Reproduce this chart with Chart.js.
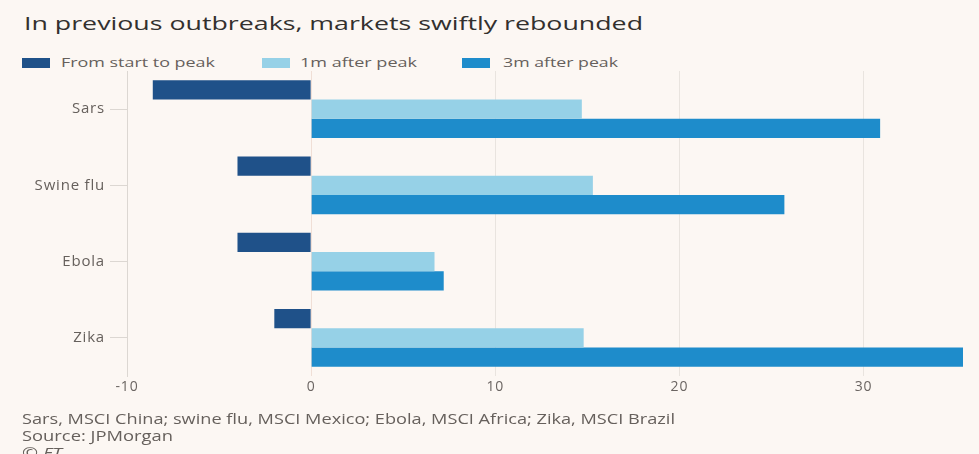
<!DOCTYPE html>
<html>
<head>
<meta charset="utf-8">
<script src="https://cdn.jsdelivr.net/npm/chart.js@4"></script>
<style>
  html, body { margin: 0; padding: 0; background: #fcf7f3; }
  body { width: 979px; height: 454px; position: relative; overflow: hidden; font-family: 'Open Sans', sans-serif; color: #66605c; }
  .fit { position: absolute; white-space: nowrap; transform-origin: 0 50%; line-height: 1; }
  #title { left: 24px; top: 14px; font-size: 19px; color: #33302e; }
  .legend-box { position: absolute; top: 58px; width: 28px; height: 10px; }
  .legend-text { top: 56px; font-size: 13px; }
  #wrap { position: absolute; left: 0; top: 0; width: 979px; height: 454px; }
  .note { left: 22px; font-size: 14px; }
</style>
</head>
<body>
<div id="title" class="fit" data-w="619">In previous outbreaks, markets swiftly rebounded</div>
<div id="legend"></div>
<div id="wrap"><canvas id="chart"></canvas></div>
<div class="fit note" style="top:412px" data-w="653">Sars, MSCI China; swine flu, MSCI Mexico; Ebola, MSCI Africa; Zika, MSCI Brazil</div>
<div class="fit note" style="top:429px" data-w="151">Source: JPMorgan</div>
<div class="fit note" style="top:446px; font-style:italic" data-w="40">© FT</div>
<script>
const outbreaks = ['Sars', 'Swine flu', 'Ebola', 'Zika']
const startToPeak = [-8.6, -4.0, -4.0, -2.0]
const oneMonthAfter = [14.7, 15.3, 6.7, 14.8]
const threeMonthsAfter = [30.9, 25.7, 7.2, 35.4]
const seriesNames = ['From start to peak', '1m after peak', '3m after peak']
const seriesColors = ['#1f5189', '#96d1e7', '#1e8ccb']

// legend item positions in the reference (box left, text left, text width)
const legendSpots = [[22, 61, 154], [262, 300, 117], [462, 503, 115]]
const legend = document.getElementById('legend')
seriesNames.forEach((name, i) => {
  const [bx, tx, tw] = legendSpots[i]
  const box = document.createElement('span')
  box.className = 'legend-box'
  box.style.left = bx + 'px'
  box.style.background = seriesColors[i]
  legend.appendChild(box)
  const txt = document.createElement('div')
  txt.className = 'fit legend-text'
  txt.style.left = tx + 'px'
  txt.dataset.w = tw
  txt.textContent = name
  legend.appendChild(txt)
})

// the reference text is drawn wide, so stretch each line to its width
document.querySelectorAll('.fit').forEach((el) => {
  const w = el.getBoundingClientRect().width
  el.style.transform = `scaleX(${el.dataset.w / w})`
})

const allSeries = [startToPeak, oneMonthAfter, threeMonthsAfter]

// wide lettering for the axis labels too
const wideText = {
  id: 'wideText',
  beforeDraw(chart) {
    chart.ctx.letterSpacing = '0.8px'
  },
}

new Chart(document.getElementById('chart').getContext('2d'), {
  type: 'bar',
  data: {
    labels: outbreaks,
    datasets: allSeries.map((values, i) => ({
      label: seriesNames[i],
      data: values,
      backgroundColor: seriesColors[i],
      categoryPercentage: 0.76,
      barPercentage: 1.0,
    })),
  },
  options: {
    indexAxis: 'y',
    responsive: true,
    maintainAspectRatio: false,
    animation: false,
    layout: {
      padding: { top: 71, right: 16, bottom: 58, left: 0 },
    },
    scales: {
      x: {
        min: -10,
        max: 35.4,
        border: { display: false },
        grid: {
          drawTicks: false,
          color: (ctx) => (ctx.tick && ctx.tick.value === 0 ? '#f0dfd6' : '#e9e4df'),
        },
        ticks: {
          stepSize: 10,
          includeBounds: false,
          padding: 3,
          color: '#6b6562',
          font: { family: 'Open Sans', size: 14 },
        },
        afterFit: (scale) => { scale.height = 20 },
      },
      y: {
        border: { display: true, color: '#dcd7d2' },
        grid: {
          offset: false,
          drawOnChartArea: false,
          tickLength: 17,
          color: '#dcd7d2',
        },
        ticks: {
          padding: 5,
          color: '#66605c',
          font: { family: 'Open Sans', size: 15 },
        },
        afterFit: (scale) => { scale.width = 127 },
      },
    },
    plugins: {
      legend: { display: false },
      tooltip: { enabled: false },
    },
  },
  plugins: [wideText],
})
</script>
</body>
</html>
